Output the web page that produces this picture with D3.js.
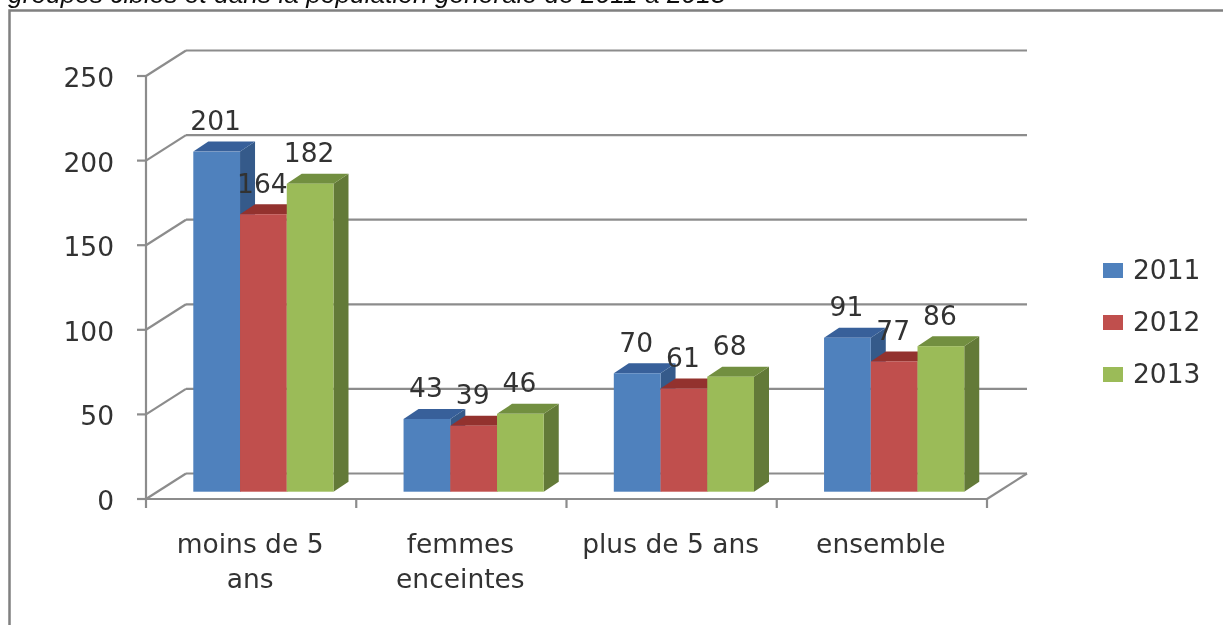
<!DOCTYPE html>
<html><head><meta charset="utf-8">
<script src="https://cdn.jsdelivr.net/npm/d3@7"></script>
<style>
html,body{margin:0;padding:0;background:#fff;overflow:hidden}
svg{display:block}
text{font-family:"DejaVu Sans",sans-serif;fill:#333}
</style></head><body><svg id="c" width="1223" height="625"></svg>
<script>
const categories=[["moins de 5","ans"],["femmes","enceintes"],["plus de 5 ans"],["ensemble"]];
const years=["2011","2012","2013"];
const values2011=[201,43,70,91];
const values2012=[164,39,61,77];
const values2013=[182,46,68,86];
const seriesValues=[values2011,values2012,values2013];
const front=["#4f81bd","#c0504d","#9bbb59"];
const top_=["#37609a","#93322f","#728f3f"];
const side=["#345a8a","#8c3836","#647a38"];
const yTicks=[0,50,100,150,200,250];
const title="groupes cibles et dans la population générale de 2011 à 2013";

const svg=d3.select("#c");
const defs=svg.append("defs");
defs.append("filter").attr("id","soft").append("feGaussianBlur").attr("stdDeviation",0.6);
const g=svg.append("g").attr("filter","url(#soft)");

const y=d3.scaleLinear().domain([0,250]).range([499,76]);
const x=d3.scaleBand().domain(d3.range(4)).range([146,987]);
const inner=d3.scaleBand().domain(d3.range(3)).range([47.3,187.5]);
const depth={x:40,y:-25.5}, bar={x:15,y:-10}, base=-7.3;
const fs="26.5px";

g.append("text").text(title).attr("x",8).attr("y",3)
 .style("font-family","'Liberation Sans'").style("font-style","italic").style("font-size","26.3px").style("fill","#111");
g.append("path").attr("d","M9.5,625V10.5H1223").attr("fill","none").attr("stroke","#808080").attr("stroke-width",2.5);

const axis="#8c8c8c";
const line=(x1,y1,x2,y2,w=2.2)=>g.append("line").attr("x1",x1).attr("y1",y1).attr("x2",x2).attr("y2",y2).attr("stroke",axis).attr("stroke-width",w);
yTicks.forEach(t=>{
  const p=y(t);
  line(146,p,146+depth.x,p+depth.y);
  line(146+depth.x,p+depth.y,987+depth.x,p+depth.y);
  line(137,p,146,p);
  g.append("text").text(t).attr("x",114).attr("y",p+11).attr("text-anchor","end").style("font-size",fs);
});
line(146,y(250),146,y(0));
line(137,y(0),987,y(0));
line(987,y(0),987+depth.x,y(0)+depth.y);
x.domain().forEach(i=>line(x(i),y(0),x(i),y(0)+9));
line(987,y(0),987,y(0)+9);

categories.forEach((lines,i)=>{
  const t=g.append("text").attr("text-anchor","middle").style("font-size",fs);
  lines.forEach((s,k)=>t.append("tspan").attr("x",x(i)+x.bandwidth()/2-1).attr("y",553+k*35).text(s));
});

const h=v=>y(0)-y(v);
const y0=y(0)+base;
categories.forEach((_,i)=>{
  seriesValues.forEach((vals,s)=>{
    const left=x(i)+inner(s), w=inner.bandwidth(), v=vals[i], yt=y0-h(v);
    const d=g.append("g");
    d.append("path").attr("d",`M${left+w},${y0}L${left+w+bar.x},${y0+bar.y}L${left+w+bar.x},${yt+bar.y}L${left+w},${yt}Z`).attr("fill",side[s]);
    d.append("path").attr("d",`M${left},${yt}L${left+bar.x},${yt+bar.y}L${left+w+bar.x},${yt+bar.y}L${left+w},${yt}Z`).attr("fill",top_[s]);
    d.append("rect").attr("x",left).attr("y",yt).attr("width",w).attr("height",h(v)).attr("fill",front[s]);
  });
});
categories.forEach((_,i)=>{
  seriesValues.forEach((vals,s)=>{
    const left=x(i)+inner(s), w=inner.bandwidth(), v=vals[i], yt=y0-h(v);
    g.append("text").text(v).attr("x",left+w/2-1).attr("y",yt-21.5).attr("text-anchor","middle").style("font-size",fs);
  });
});

years.forEach((yr,s)=>{
  const yy=d3.scalePoint().domain(years).range([270.5,374.5])(yr);
  g.append("rect").attr("x",1103).attr("y",yy-7.5).attr("width",20).attr("height",15).attr("fill",front[s]);
  g.append("text").text(yr).attr("x",1133).attr("y",yy+8).style("font-size",fs);
});
</script></body></html>
